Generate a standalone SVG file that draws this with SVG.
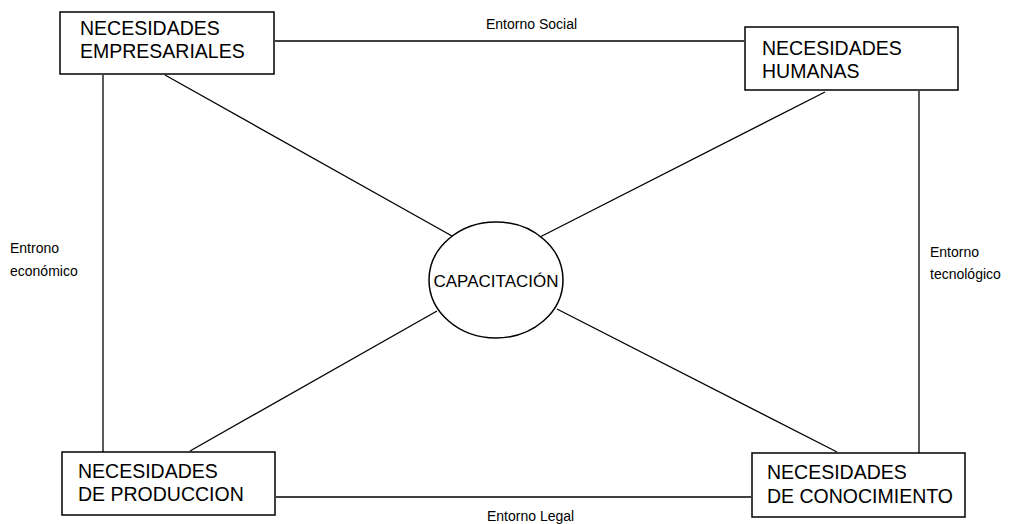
<svg xmlns="http://www.w3.org/2000/svg" width="1014" height="524" viewBox="0 0 1014 524">
<style>
.box{fill:#fff;stroke:#000;stroke-width:1.5}
.ln{stroke:#000;stroke-width:1.3;fill:none}
.bt{font-family:"Liberation Sans",Arial,sans-serif;font-size:19.5px;fill:#000}
.lb{font-family:"Liberation Sans",Arial,sans-serif;font-size:14px;fill:#000}
.ct{font-family:"Liberation Sans",Arial,sans-serif;font-size:17px;fill:#000;text-anchor:middle}
</style>
<rect width="1014" height="524" fill="#fff"/>
<g id="connectors">
<line class="ln" x1="275" y1="41" x2="744" y2="41"/>
<line class="ln" x1="103" y1="75" x2="103" y2="452"/>
<line class="ln" x1="919" y1="91" x2="919" y2="453"/>
<line class="ln" x1="276" y1="497" x2="751" y2="497"/>
<line class="ln" x1="165" y1="75" x2="452" y2="236"/>
<line class="ln" x1="825" y1="92" x2="540" y2="237"/>
<line class="ln" x1="190" y1="451" x2="437" y2="311"/>
<line class="ln" x1="837" y1="452" x2="557" y2="309"/>
<text class="lb" x="486" y="29">Entorno Social</text>
<text class="lb" x="10" y="253">Entrono</text>
<text class="lb" x="10" y="276">económico</text>
<text class="lb" x="930" y="257">Entorno</text>
<text class="lb" x="930" y="279">tecnológico</text>
<text class="lb" x="487" y="521">Entorno Legal</text>
</g>
<g id="n-empresariales">
<rect class="box" x="60" y="12" width="214" height="62"/>
<text class="bt" x="80" y="35">NECESIDADES</text>
<text class="bt" x="80" y="58">EMPRESARIALES</text>
</g>
<g id="n-humanas">
<rect class="box" x="745" y="27" width="213" height="63"/>
<text class="bt" x="762" y="55">NECESIDADES</text>
<text class="bt" x="762" y="78">HUMANAS</text>
</g>
<g id="n-produccion">
<rect class="box" x="62" y="452" width="213" height="63"/>
<text class="bt" x="78" y="478">NECESIDADES</text>
<text class="bt" x="78" y="501">DE PRODUCCION</text>
</g>
<g id="n-conocimiento">
<rect class="box" x="752" y="453" width="213" height="64"/>
<text class="bt" x="767" y="479">NECESIDADES</text>
<text class="bt" x="767" y="503">DE CONOCIMIENTO</text>
</g>
<g id="n-capacitacion">
<ellipse class="box" cx="496" cy="280" rx="67" ry="58"/>
<text class="ct" x="496" y="287">CAPACITACIÓN</text>
</g>
</svg>
